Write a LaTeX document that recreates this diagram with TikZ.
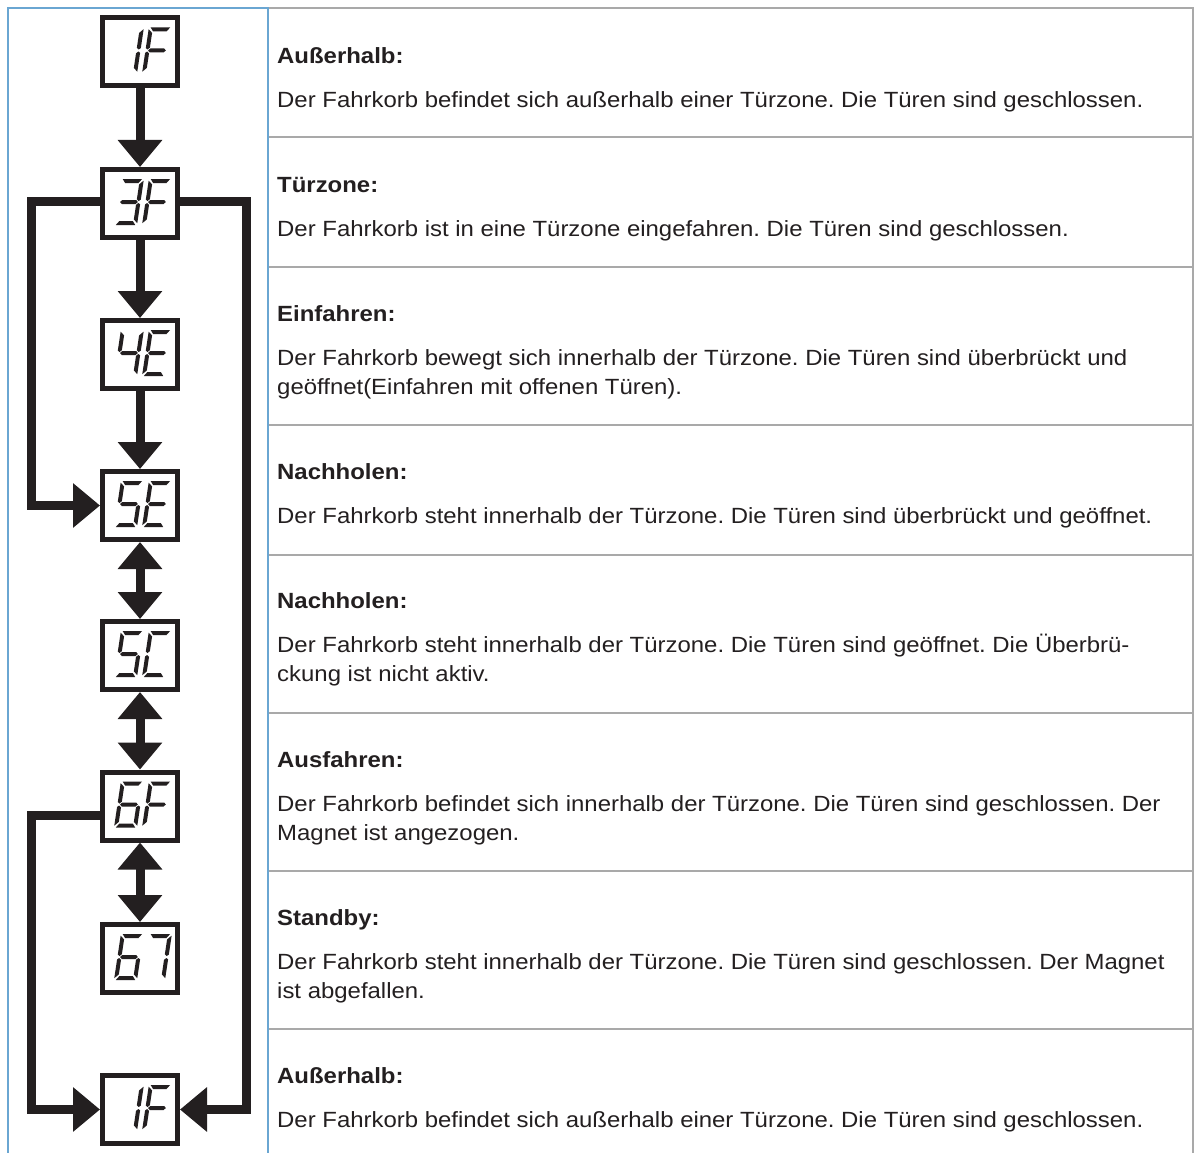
\documentclass[tikz,border=0pt]{standalone}
\usepackage{fontspec}
\setmainfont[FakeStretch=1.088]{Liberation Sans}
\usetikzlibrary{arrows.meta}

\definecolor{ink}{HTML}{231F20}
\definecolor{cellblue}{HTML}{6AA6D2}
\definecolor{rulegray}{HTML}{A9A9A9}
\definecolor{txt}{HTML}{231F20}

\tikzset{
  x=1pt, y=-1pt,
  dispbox/.style={draw=ink, line width=5pt, minimum width=75pt, minimum height=68pt, inner sep=0pt, fill=white},
  flow/.style={draw=ink, line width=9pt, -{Triangle[width=43pt,length=27pt]}},
  flowboth/.style={draw=ink, line width=9pt, {Triangle[width=43pt,length=27pt]}-{Triangle[width=43pt,length=27pt]}},
  heading/.style={anchor=base west, inner sep=0pt, text=txt, font=\fontsize{22}{29}\selectfont\bfseries},
  body/.style={anchor=base west, inner sep=0pt, text=txt, font=\fontsize{22}{29}\selectfont, align=left},
}

% seven-segment polygons in a 23 x 46 cell (v upwards)
\newcommand{\segA}{(1.8,46)--(21.2,46)--(18.2,42)--(4.8,42)--cycle}
\newcommand{\segB}{(23,44.3)--(19,40.6)--(19,25.8)--(21.1,24)--(23,25.4)--cycle}
\newcommand{\segC}{(23,20.6)--(21.1,22)--(19,20.2)--(19,5.6)--(23,1.8)--cycle}
\newcommand{\segD}{(1.8,0)--(21.2,0)--(18.2,4)--(4.8,4)--cycle}
\newcommand{\segE}{(0,20.6)--(1.9,22)--(4,20.2)--(4,5.6)--(0,1.8)--cycle}
\newcommand{\segF}{(0,44.3)--(4,40.6)--(4,25.8)--(1.9,24)--(0,25.4)--cycle}
\newcommand{\segG}{(2.6,23)--(4.6,25)--(18.4,25)--(20.4,23)--(18.4,21)--(4.6,21)--cycle}

% \digit{box}{x offset}{segment letters}
\newcommand{\digit}[3]{%
  \begin{scope}[shift={(#1)}, shift={(#2,21.5)}, x=1pt, y=1pt, xslant=0.15]
    \foreach \s in {#3}{\fill[ink] \csname seg\s\endcsname;}
  \end{scope}}
\newcommand{\display}[3]{\digit{#1}{-26}{#2}\digit{#1}{2}{#3}}

\begin{document}
\frenchspacing
\begin{tikzpicture}
\useasboundingbox (0,0) rectangle (1197,1153);
\fill[white] (0,0) rectangle (1197,1153);

% table of descriptions
\draw[rulegray, line width=1.3pt] (268,8) -- (1193,8) -- (1193,1160);
\foreach \yy in {137,267,425,555,713,871,1029}
  \draw[rulegray, line width=1.3pt] (268,\yy) -- (1193,\yy);
\draw[cellblue, line width=1.3pt] (8,1160) -- (8,8) -- (268,8) -- (268,1160);

% displays
\node[dispbox] (d1)  at (140,52)    {};
\node[dispbox] (d3)  at (140,203.5) {};
\node[dispbox] (d4)  at (140,354.5) {};
\node[dispbox] (d5e) at (140,505.5) {};
\node[dispbox] (d5c) at (140,655.5) {};
\node[dispbox] (d6f) at (140,806)   {};
\node[dispbox] (d67) at (140,958.5) {};
\node[dispbox] (dend) at (140,1109.5) {};

\coordinate (l1a) at (31,201);
\coordinate (l1b) at (31,505.5);
\coordinate (r1a) at (246,201);
\coordinate (r1b) at (246,1109.5);
\coordinate (l2a) at (31,815);
\coordinate (l2b) at (31,1109.5);

% connectors
\draw[flow] (d1.south) -- (d3.north);
\draw[flow] (d3.south) -- (d4.north);
\draw[flow] (d4.south) -- (d5e.north);
\draw[flowboth] (d5e.south) -- (d5c.north);
\draw[flowboth] (d5c.south) -- (d6f.north);
\draw[flowboth] (d6f.south) -- (d67.north);
\draw[flow, line join=miter] (d3.west |- l1a) -- (l1a) -- (l1b) -- (d5e.west);
\draw[flow, line join=miter] (d3.east |- r1a) -- (r1a) -- (r1b) -- (dend.east);
\draw[flow, line join=miter] (d6f.west |- l2a) -- (l2a) -- (l2b) -- (dend.west);

% segment readouts
\display{d1}{B,C}{A,F,G,E}
\display{d3}{A,B,G,C,D}{A,F,G,E}
\display{d4}{F,G,B,C}{A,F,G,E,D}
\display{d5e}{A,F,G,C,D}{A,F,G,E,D}
\display{d5c}{A,F,G,C,D}{A,F,E,D}
\display{d6f}{A,F,G,E,C,D}{A,F,G,E}
\display{d67}{A,F,G,E,C,D}{A,B,C}
\display{dend}{B,C}{A,F,G,E}

% descriptions (multi-line nodes are placed by the baseline of their last line)
\node[heading] (h1) at (277,63.5) {Außerhalb:};
\node[body] (t1) at (277,107.5) {Der Fahrkorb befindet sich außerhalb einer Türzone. Die Türen sind geschlossen.};
\node[heading] (h2) at (277,192.5) {Türzone:};
\node[body] (t2) at (277,236.5) {Der Fahrkorb ist in eine Türzone eingefahren. Die Türen sind geschlossen.};
\node[heading] (h3) at (277,321.5) {Einfahren:};
\node[body] (t3) at (277,394.5) {Der Fahrkorb bewegt sich innerhalb der Türzone. Die Türen sind überbrückt und\\geöffnet(Einfahren mit offenen Türen).};
\node[heading] (h4) at (277,479.5) {Nachholen:};
\node[body] (t4) at (277,523.5) {Der Fahrkorb steht innerhalb der Türzone. Die Türen sind überbrückt und geöffnet.};
\node[heading] (h5) at (277,608.5) {Nachholen:};
\node[body] (t5) at (277,681.5) {Der Fahrkorb steht innerhalb der Türzone. Die Türen sind geöffnet. Die Überbrü-\\ckung ist nicht aktiv.};
\node[heading] (h6) at (277,767.5) {Ausfahren:};
\node[body] (t6) at (277,840.5) {Der Fahrkorb befindet sich innerhalb der Türzone. Die Türen sind geschlossen. Der\\Magnet ist angezogen.};
\node[heading] (h7) at (277,925.5) {Standby:};
\node[body] (t7) at (277,998.5) {Der Fahrkorb steht innerhalb der Türzone. Die Türen sind geschlossen. Der Magnet\\ist abgefallen.};
\node[heading] (h8) at (277,1083.5) {Außerhalb:};
\node[body] (t8) at (277,1127.5) {Der Fahrkorb befindet sich außerhalb einer Türzone. Die Türen sind geschlossen.};
\end{tikzpicture}
\end{document}
